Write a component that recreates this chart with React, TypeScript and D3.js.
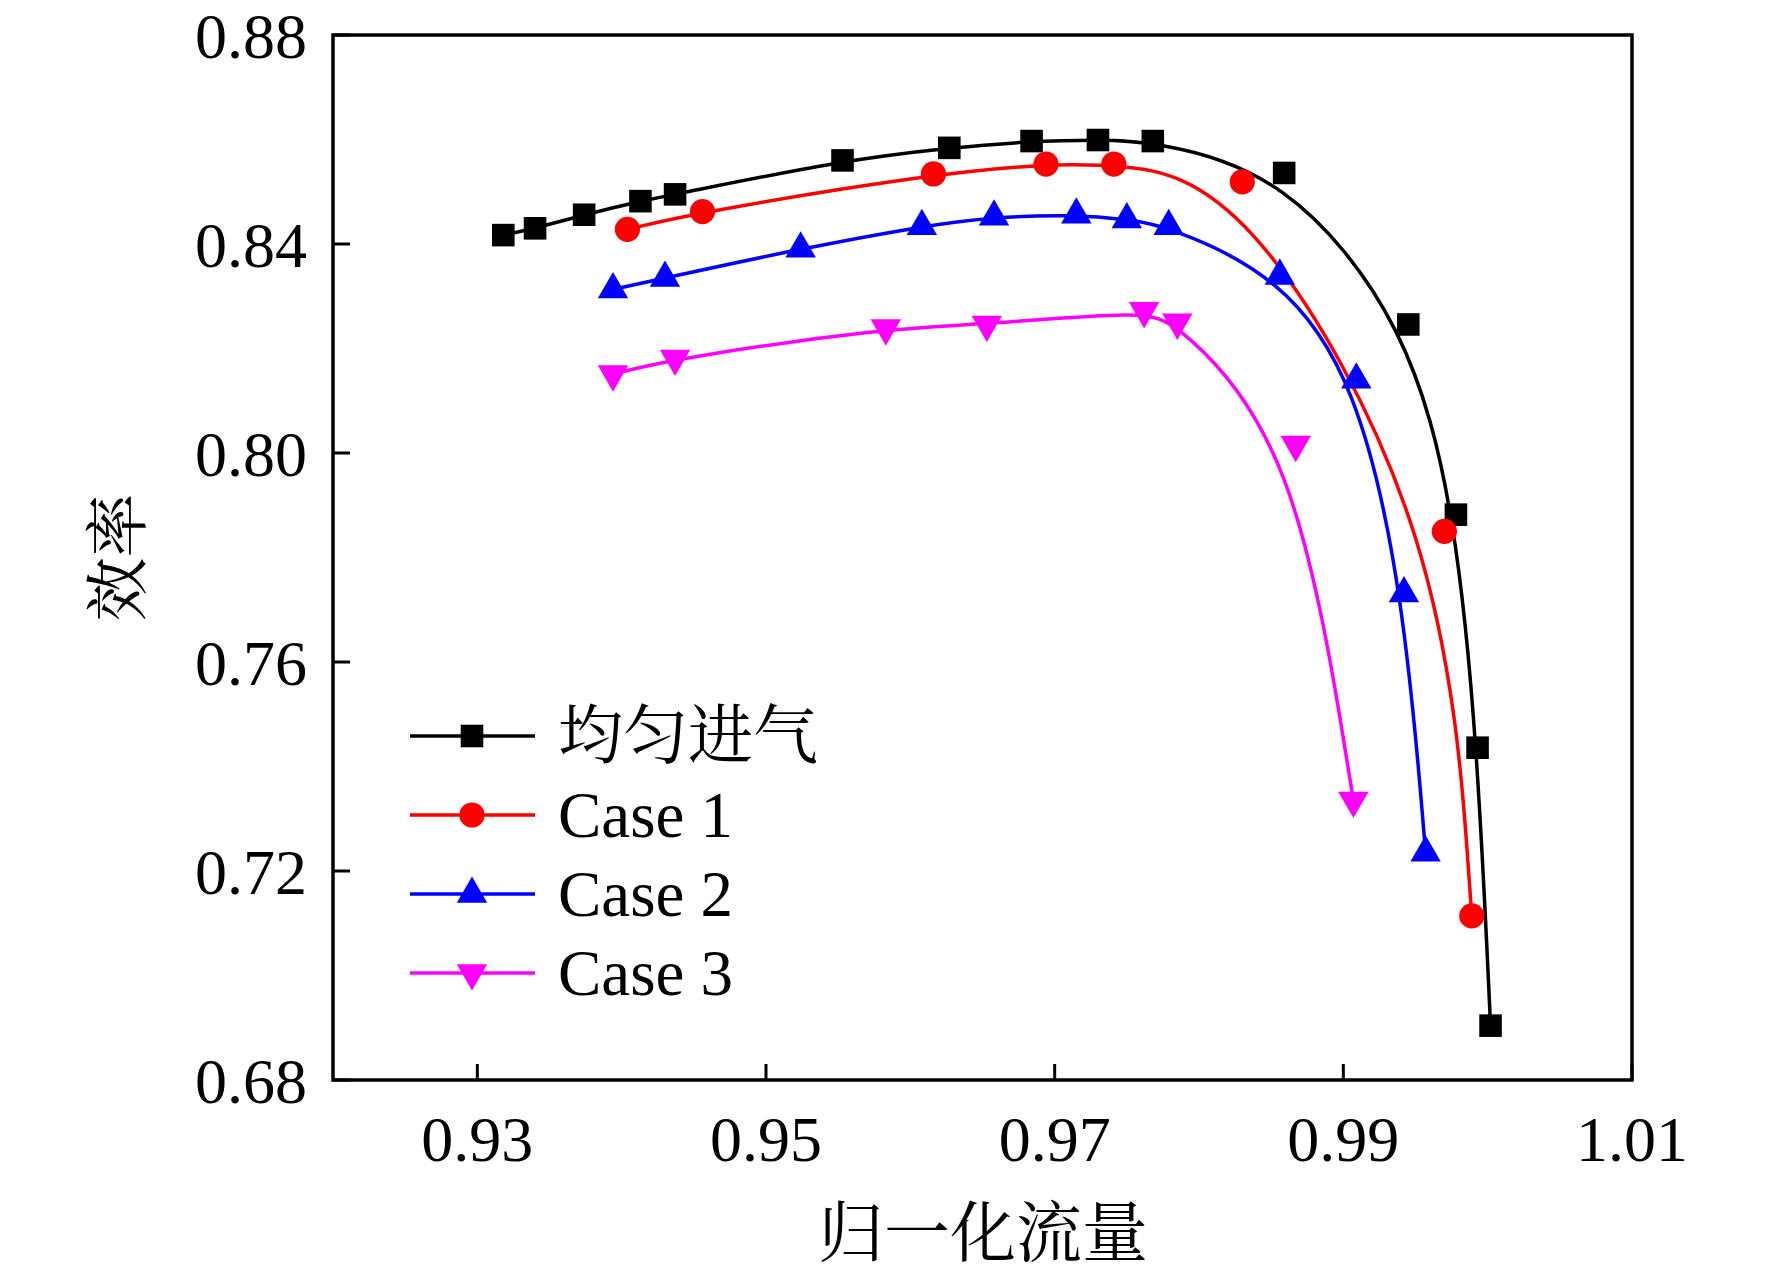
import * as d3 from 'd3';
import * as React from 'react';

const SVG_WIDTH = 1772;
const SVG_HEIGHT = 1275;
const MARGIN = { top: 35, right: 140, bottom: 195, left: 333 };

const LATIN_FONT = '"Liberation Serif", "Times New Roman", serif';
const CJK_FONT = '"Noto Serif CJK SC", "Noto Sans CJK SC", serif';

// normalized mass flow vs efficiency
const uniformFlow = [0.9318, 0.934, 0.9374, 0.9413, 0.9437, 0.9553, 0.9627, 0.9684, 0.973, 0.9768, 0.9859, 0.9945, 0.9978, 0.9993, 1.0002];
const uniformEff = [0.8417, 0.843, 0.8456, 0.8482, 0.8495, 0.856, 0.8584, 0.8597, 0.8599, 0.8597, 0.8536, 0.8246, 0.7882, 0.7436, 0.6904];

const case1Flow = [0.9404, 0.9456, 0.9616, 0.9694, 0.9741, 0.983, 0.997, 0.9989];
const case1Eff = [0.8428, 0.8462, 0.8534, 0.8553, 0.8553, 0.8519, 0.785, 0.7114];

const case2Flow = [0.9394, 0.943, 0.9524, 0.9608, 0.9658, 0.9715, 0.975, 0.9779, 0.9856, 0.9909, 0.9942, 0.9957];
const case2Eff = [0.8313, 0.8335, 0.8391, 0.8434, 0.8452, 0.8456, 0.8447, 0.8434, 0.8339, 0.814, 0.7731, 0.7235];

const case3Flow = [0.9394, 0.9437, 0.9583, 0.9653, 0.9762, 0.9785, 0.9867, 0.9907];
const case3Eff = [0.8151, 0.8181, 0.8239, 0.8246, 0.8272, 0.825, 0.8016, 0.7335];

const seriesNames = ['均匀进气', 'Case 1', 'Case 2', 'Case 3'];
const seriesColors = ['#000000', '#ff0000', '#0000ff', '#ff00ff'];

const xTicks = [0.93, 0.95, 0.97, 0.99, 1.01];
const yTicks = [0.68, 0.72, 0.76, 0.8, 0.84, 0.88];

type Marker = 'square' | 'circle' | 'up' | 'down';

const series: { name: string; color: string; marker: Marker; x: number[]; y: number[] }[] = [
  { name: seriesNames[0], color: seriesColors[0], marker: 'square', x: uniformFlow, y: uniformEff },
  { name: seriesNames[1], color: seriesColors[1], marker: 'circle', x: case1Flow, y: case1Eff },
  { name: seriesNames[2], color: seriesColors[2], marker: 'up', x: case2Flow, y: case2Eff },
  { name: seriesNames[3], color: seriesColors[3], marker: 'down', x: case3Flow, y: case3Eff },
];

function markerPath(m: Marker) {
  if (m === 'square') return d3.symbol(d3.symbolSquare, 510)();
  if (m === 'circle') return d3.symbol(d3.symbolCircle, 500)();
  return d3.symbol(d3.symbolTriangle, 400)();
}

function App() {
  const ref = React.useRef<SVGSVGElement | null>(null);

  React.useEffect(() => {
    document.body.style.margin = '0';
    const svg = d3.select(ref.current);
    svg.selectAll('*').remove();

    const x0 = MARGIN.left;
    const x1 = SVG_WIDTH - MARGIN.right;
    const y0 = SVG_HEIGHT - MARGIN.bottom;
    const y1 = MARGIN.top;

    const scaleX = d3.scaleLinear().domain([0.92, 1.01]).range([x0, x1]);
    const scaleY = d3.scaleLinear().domain([0.68, 0.88]).range([y0, y1]);

    // data
    const line = d3
      .line<[number, number]>()
      .x(d => scaleX(d[0]))
      .y(d => scaleY(d[1]))
      .curve(d3.curveBasis);

    series.forEach(s => {
      const pts = s.x.map((v, i) => [v, s.y[i]] as [number, number]);
      svg
        .append('path')
        .attr('d', line(pts))
        .attr('fill', 'none')
        .attr('stroke', s.color)
        .attr('stroke-width', 3.5);
    });

    series.forEach(s => {
      const pts = s.x.map((v, i) => [v, s.y[i]] as [number, number]);
      svg
        .append('g')
        .selectAll('path')
        .data(pts)
        .enter()
        .append('path')
        .attr('d', markerPath(s.marker))
        .attr('fill', s.color)
        .attr(
          'transform',
          d => `translate(${scaleX(d[0])},${scaleY(d[1])})${s.marker === 'down' ? ' rotate(180)' : ''}`
        );
    });

    // frame
    svg
      .append('rect')
      .attr('x', x0)
      .attr('y', y1)
      .attr('width', x1 - x0)
      .attr('height', y0 - y1)
      .attr('fill', 'none')
      .attr('stroke', '#000')
      .attr('stroke-width', 3.5);

    // ticks (inward, bottom + left only)
    svg
      .append('g')
      .selectAll('line')
      .data(xTicks)
      .enter()
      .append('line')
      .attr('x1', d => scaleX(d))
      .attr('x2', d => scaleX(d))
      .attr('y1', y0)
      .attr('y2', y0 - 16)
      .attr('stroke', '#000')
      .attr('stroke-width', 3);

    svg
      .append('g')
      .selectAll('line')
      .data(yTicks)
      .enter()
      .append('line')
      .attr('x1', x0)
      .attr('x2', x0 + 17)
      .attr('y1', d => scaleY(d))
      .attr('y2', d => scaleY(d))
      .attr('stroke', '#000')
      .attr('stroke-width', 3);

    svg
      .append('g')
      .selectAll('text')
      .data(xTicks)
      .enter()
      .append('text')
      .attr('x', d => scaleX(d))
      .attr('y', y0 + 81)
      .attr('text-anchor', 'middle')
      .attr('font-family', LATIN_FONT)
      .attr('font-size', 64)
      .text(d => d.toFixed(2));

    svg
      .append('g')
      .selectAll('text')
      .data(yTicks)
      .enter()
      .append('text')
      .attr('x', x0 - 26)
      .attr('y', d => scaleY(d))
      .attr('dy', '0.36em')
      .attr('text-anchor', 'end')
      .attr('font-family', LATIN_FONT)
      .attr('font-size', 64)
      .text(d => d.toFixed(2));

    // axis titles
    svg
      .append('text')
      .attr('x', (x0 + x1) / 2 + 0.5)
      .attr('y', 1256)
      .attr('text-anchor', 'middle')
      .attr('font-family', CJK_FONT)
      .attr('font-size', 66)
      .text('归一化流量');

    svg
      .append('text')
      .attr('transform', `translate(140,${(y0 + y1) / 2}) rotate(-90)`)
      .attr('text-anchor', 'middle')
      .attr('font-family', CJK_FONT)
      .attr('font-size', 64)
      .text('效率');

    // legend
    const legend = svg.append('g').attr('transform', 'translate(410,758)');
    series.forEach((s, i) => {
      const row = legend.append('g').attr('transform', `translate(0,${i * 79})`);
      row
        .append('line')
        .attr('x1', 0)
        .attr('x2', 125)
        .attr('y1', -22)
        .attr('y2', -22)
        .attr('stroke', s.color)
        .attr('stroke-width', 3.5);
      row
        .append('path')
        .attr('d', markerPath(s.marker))
        .attr('fill', s.color)
        .attr('transform', `translate(62,-22)${s.marker === 'down' ? ' rotate(180)' : ''}`);
      row
        .append('text')
        .attr('x', 148)
        .attr('y', 0)
        .attr('font-family', i === 0 ? CJK_FONT : LATIN_FONT)
        .attr('font-size', 65)
        .text(s.name);
    });
  }, []);

  return (
    <svg
      ref={ref}
      width={SVG_WIDTH}
      height={SVG_HEIGHT}
      viewBox={`0 0 ${SVG_WIDTH} ${SVG_HEIGHT}`}
      style={{ display: 'block', background: '#fff' }}
    />
  );
}

export default App;
